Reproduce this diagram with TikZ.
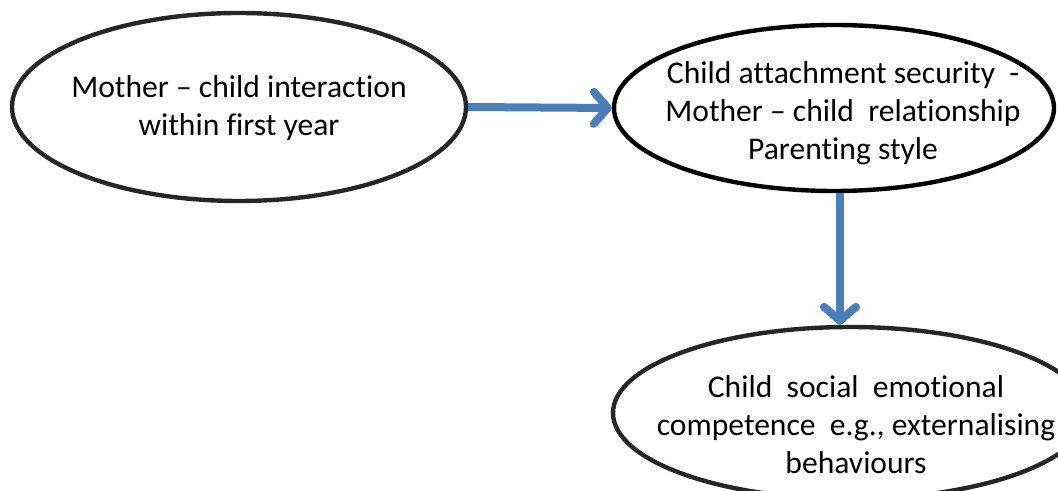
\documentclass[tikz,border=0pt]{standalone}
\usepackage{fontspec}
\setmainfont{Carlito}[Ligatures={NoCommon,NoRare}]
\usetikzlibrary{shapes.geometric,arrows.meta}
\definecolor{linkblue}{RGB}{74,126,187}
\begin{document}
\begin{tikzpicture}[x=0.5pt,y=-0.5pt,
    bubble/.style={draw=black!85,line width=2.2pt,ellipse,inner sep=0pt},
    txt/.style={align=center,font=\fontsize{15.8}{19}\selectfont},
    link/.style={linkblue,line width=4pt,-{Straight Barb[length=7pt,width=16pt,round]}}]
  \useasboundingbox (0,0) rectangle (1058,491);
  \clip (0,0) rectangle (1058,491);
  \draw
    (239,107) node[bubble,minimum width=227pt,minimum height=94pt] (0){}
    (834,108) node[bubble,draw=black,minimum width=220pt,minimum height=83pt] (1){}
    (850,413) node[bubble,minimum width=237pt,minimum height=86pt] (2){};
  \draw
    (239,108) node[txt] (t0){Mother -- child interaction\\within first year}
    (843,113) node[txt] (t1){Child attachment security\ \ -\\Mother -- child\ \ relationship\\Parenting style}
    (856,425) node[txt] (t2){Child\ \ social\ \ emotional\\competence\ \ e.g., externalising\\behaviours};
  \begin{scope}[link]
    \draw (0.east) -- (1.west);
    \draw ([xshift=3pt]1.south) -- ([xshift=3pt]1.south |- 2.north);
  \end{scope}
\end{tikzpicture}
\end{document}
